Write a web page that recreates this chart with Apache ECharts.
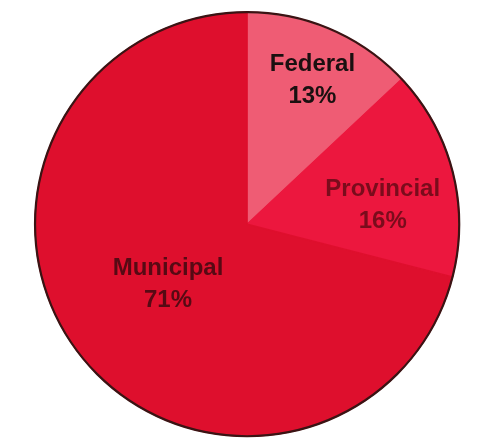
<!DOCTYPE html>
<html>
<head>
<meta charset="utf-8">
<script src="https://cdn.jsdelivr.net/npm/echarts@6/dist/echarts.min.js"></script>
<style>
  html, body { margin: 0; padding: 0; background: #ffffff; }
  #chart { width: 478px; height: 443px; }
</style>
</head>
<body>
<div id="chart"></div>
<script>
// Shares of spending by level of government (percent)
const categories = ['Federal', 'Provincial', 'Municipal'];
const shares = [13, 16, 71];

// Slice fills, slice edges and label text colours
const sliceColors = ['#ef5c74', '#ec173e', '#de0f2d'];
const edgeColors = ['#f48a9a', '#ec173e', '#de0f2d'];
const labelColors = ['#1a1010', '#7a0c1c', '#560a14'];
// Nudges applied to each label from its default inside spot
const labelOffsets = [[22, -44], [30, 8], [7, -7]];

const chart = echarts.init(document.getElementById('chart'), null, { renderer: 'canvas' });

const center = ['51.7%', '50.6%'];
const radius = 212;

chart.setOption({
  animation: false,
  backgroundColor: '#ffffff',
  series: [
    {
      type: 'pie',
      center: center,
      radius: [0, radius],
      startAngle: 90,
      clockwise: true,
      percentPrecision: 0,
      avoidLabelOverlap: false,
      silent: true,
      label: {
        show: true,
        position: 'inside',
        formatter: '{b}\n{d}%',
        fontFamily: 'Liberation Sans, Arial, sans-serif',
        fontWeight: 'bold',
        fontSize: 24,
        lineHeight: 32,
        align: 'center'
      },
      labelLine: { show: false },
      data: categories.map((name, i) => ({
        name: name,
        value: shares[i],
        itemStyle: { color: sliceColors[i], borderColor: edgeColors[i], borderWidth: 1.5 },
        label: { color: labelColors[i], offset: labelOffsets[i] }
      }))
    },
    {
      // dark rim around the whole pie
      type: 'pie',
      center: center,
      radius: [radius - 1, radius + 1.2],
      silent: true,
      label: { show: false },
      labelLine: { show: false },
      itemStyle: { color: '#3a1414' },
      data: [{ name: 'rim', value: 1 }]
    }
  ]
});
</script>
</body>
</html>
